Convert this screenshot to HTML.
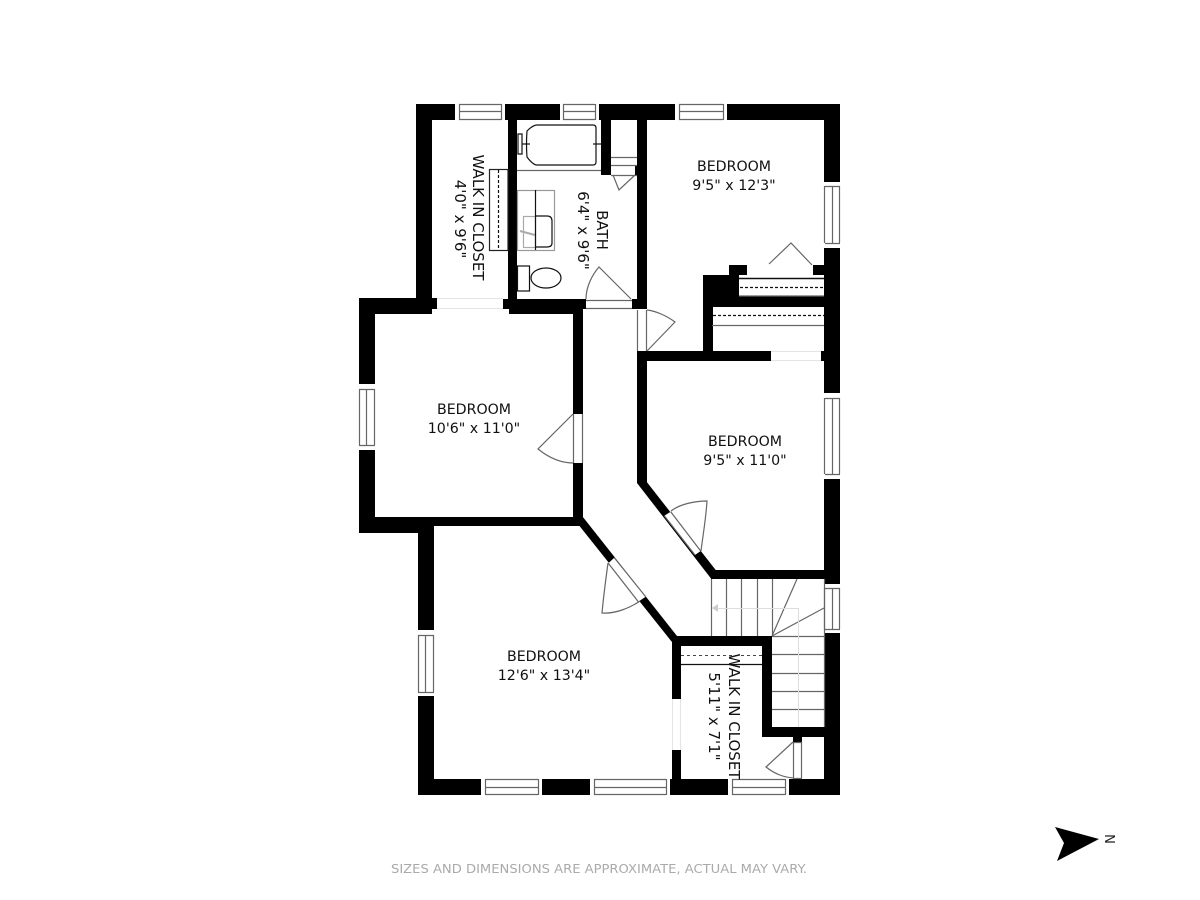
<!DOCTYPE html>
<html><head><meta charset="utf-8"><style>
html,body{margin:0;padding:0;background:#fff}
svg{display:block}
text{font-family:"DejaVu Sans","Liberation Sans",sans-serif;fill:#111;font-size:14.2px;text-anchor:middle}
.r{font-size:15px}
.g{fill:none;stroke:#666;stroke-width:1.2}
.k{fill:none;stroke:#111;stroke-width:1.2}
.d{fill:none;stroke:#111;stroke-width:1.2;stroke-dasharray:3 2}
</style></head><body>
<svg width="1200" height="900" viewBox="0 0 1200 900" xmlns="http://www.w3.org/2000/svg">
<rect width="1200" height="900" fill="#fff"/>
<!-- walls -->
<g fill="#000">
<rect x="416" y="104" width="424" height="16"/>
<rect x="416" y="104" width="16" height="205"/>
<rect x="508" y="104" width="9" height="205"/>
<rect x="601" y="104" width="10" height="71"/>
<rect x="635" y="165" width="3" height="10"/>
<rect x="637" y="104" width="10" height="205"/>
<rect x="824" y="104" width="16" height="691"/>
<!-- left bedroom -->
<rect x="359" y="298" width="73" height="16"/>
<rect x="432" y="298" width="5" height="11"/>
<rect x="503" y="299" width="6" height="10"/>
<rect x="509" y="299" width="74" height="15"/>
<rect x="583" y="299" width="3" height="10"/>
<rect x="632" y="299" width="15" height="10"/>
<rect x="359" y="298" width="16" height="235"/>
<rect x="573" y="299" width="10" height="227"/>
<rect x="359" y="517" width="75" height="16"/>
<rect x="418" y="517" width="165" height="9"/>
<rect x="418" y="517" width="16" height="278"/>
<rect x="418" y="779" width="422" height="16"/>
<!-- diagonal lower -->
<polygon points="573,526 579.500,526 671.700,641.700 677,636 582.700,516.700 573,516"/>
<rect x="672" y="636" width="100" height="10"/>
<rect x="672" y="636" width="9" height="159"/>
<rect x="762" y="636" width="10" height="101"/>
<rect x="762" y="727" width="63" height="10"/>
<rect x="793" y="737" width="9" height="5"/>
<!-- right hall wall -->
<rect x="637" y="351" width="134" height="10"/>
<rect x="821" y="351" width="4" height="10"/>
<rect x="637" y="351" width="10" height="132"/>
<polygon points="637,483 711,578.500 711,579 825,579 825,570 715.700,570 646,481 637,481"/>
<!-- closet block -->
<rect x="703" y="275" width="10" height="80"/>
<rect x="703" y="275" width="36" height="32"/>
<rect x="729" y="265" width="18" height="10"/>
<rect x="813" y="265" width="11" height="10"/>
<rect x="703" y="296" width="122" height="11"/>
</g>
<!-- openings and windows -->
<g fill="#fff">
<rect x="455" y="103" width="50" height="17"/>
<rect x="560" y="103" width="39" height="17"/>
<rect x="675" y="103" width="52" height="17"/>
<rect x="824" y="182" width="17" height="66"/>
<rect x="824" y="393" width="17" height="86"/>
<rect x="824" y="584" width="17" height="49"/>
<rect x="358" y="384" width="17" height="66"/>
<rect x="417" y="630" width="17" height="66"/>
<rect x="481" y="779" width="61" height="17"/>
<rect x="590" y="779" width="80" height="17"/>
<rect x="728" y="779" width="61" height="17"/>
<rect x="672" y="699" width="9" height="51"/>
<rect x="771" y="351" width="50" height="10"/>
<rect x="437" y="298" width="66" height="11"/>
<rect x="586" y="299" width="46" height="10"/>
<rect x="637" y="310" width="10" height="41"/>
<rect x="573" y="414" width="10" height="49"/>
<rect x="793" y="742" width="9" height="37"/>
<polygon points="664.300,515.700 670.700,511.700 700.700,551 695,555"/>
<polygon points="608.300,563.300 614.300,557.700 645.700,596.700 638.300,601.700"/>
<rect x="739" y="275" width="85" height="21"/>
<rect x="747" y="265" width="66" height="10"/>
</g>
<g fill="none" stroke="#e4e4e4">
<path d="M437 298.500H503M437 308.500H503M771 351.500H821M771 360.500H821M672.500 699V750M680.500 699V750"/>
</g>
<!-- window lines -->
<g class="g">
<path d="M459.500 104V120M501.500 104V120M459 104.500H501M459 111.500H501M459 119.500H501"/>
<path d="M563.500 104V120M595.500 104V120M563 104.500H595M563 111.500H595M563 119.500H595"/>
<path d="M679.500 104V120M723.500 104V120M679 104.500H723M679 111.500H723M679 119.500H723"/>
<path d="M825 186.500H840M825 243.500H840M824.500 186V243M832.500 186V243M839.500 186V243"/>
<path d="M825 398.500H840M825 474.500H840M824.500 398V474M832.500 398V474M839.500 398V474"/>
<path d="M825 588.500H840M825 629.500H840M824.500 588V629M832.500 588V629M839.500 588V629"/>
<path d="M359 389.500H375M359 445.500H375M359.500 389V445M366.500 389V445M374.500 389V445"/>
<path d="M418 635.500H434M418 692.500H434M418.500 635V692M425.500 635V692M433.500 635V692"/>
<path d="M485.500 779V795M538.500 779V795M485 779.500H538M485 787.500H538M485 794.500H538"/>
<path d="M594.500 779V795M666.500 779V795M594 779.500H666M594 787.500H666M594 794.500H666"/>
<path d="M732.500 779V795M785.500 779V795M732 779.500H785M732 787.500H785M732 794.500H785"/>
<path d="M586 308.500H632M586 300.500H632"/>
<path d="M637.500 310V351M646.500 310V351"/>
<path d="M573.500 414V463M582.500 414V463"/>
<path d="M793.500 742V778M801.500 742V778M793 742.500H802M793 778.500H802"/>
<path d="M664.300 515.700L695 555M670.700 511.700L700.700 551"/>
<path d="M608.300 563.300L638.300 601.700M614.300 557.700L645.700 596.700"/>
</g>
<!-- door swings -->
<g class="g" stroke="#444">
<path d="M586 299C586 287 592 275 599 267L631 299"/>
<path d="M647 310C656 311 667 316 675 322L647 351"/>
<path d="M573 414L538 449C548 457 560 463 573 463"/>
<path d="M671 511C680 504 695 501 707 501C706 518 703 535 701 551"/>
<path d="M608 563C605 585 603 602 602 613C615 614 630 608 640 601"/>
<path d="M793 742L766 767C775 774 783 777 793 778"/>
<path d="M769 264L791 243L812 265"/>
<path d="M613 175L619 190L635 175"/>
</g>
<!-- bathroom fixtures -->
<g class="g">
<path d="M517 170.500H601"/>
<path d="M611 157.500H637M611 165.500H637"/>
<path d="M611 175.500H637"/>
<rect x="517.500" y="190.500" width="37" height="60" stroke="#999"/>
<rect x="523.500" y="216.500" width="12" height="31" stroke="#aaa"/>
<path d="M520 231L535 235" stroke="#aaa" stroke-width="2"/>
<rect x="489.500" y="169.500" width="18.500" height="81" stroke="#222"/>
<path d="M739 296H824M712 325.500H824"/>
</g>
<g class="k">
<path d="M527 131Q533 125 537 125H593Q596 125 596 128V162Q596 165 593 165H537Q533 165 527 157Q526 144 527 131Z"/>
<path d="M518 134H522V154H518Z"/>
<path d="M522 144H530"/>
<path d="M593 144H601"/>
<path d="M535.500 190V250"/>
<path d="M535 216H547Q552 216 552 221V243Q552 247 547 247H535"/>
<ellipse cx="546" cy="278" rx="15" ry="10"/>
<rect x="517.500" y="266" width="12" height="25"/>
<path d="M739 278.500H824" stroke-width="1.500"/>
<path d="M681 664.500H762"/>
</g>
<g>
<path class="d" d="M498.500 170V250"/>
<path class="d" d="M740 287.500H824"/>
<path class="d" d="M713 315.500H824"/>
<path d="M681 655.500H762" fill="none" stroke="#444" stroke-width="1" stroke-dasharray="3 3"/>
</g>
<!-- stairs -->
<g class="g">
<path d="M711.500 579V636M726.500 579V636M741.500 579V636M757.500 579V636M772.500 579V636"/>
<path d="M772 636L797 579M772 636L824 608"/>
<path d="M772 636.500H824M772 654.500H824M772 673.500H824M772 691.500H824M772 709.500H824"/>
<path d="M824.500 579V727"/>
</g>
<path d="M718 608.500H798.500V727" fill="none" stroke="#ddd" stroke-width="1"/>
<polygon points="712,608 718,604 718,612" fill="#ccc"/>
<!-- labels -->
<text x="734" y="171">BEDROOM</text>
<text x="734" y="190">9'5" x 12'3"</text>
<text x="474" y="414">BEDROOM</text>
<text x="474" y="433">10'6" x 11'0"</text>
<text x="745" y="446">BEDROOM</text>
<text x="745" y="465">9'5" x 11'0"</text>
<text x="544" y="661">BEDROOM</text>
<text x="544" y="680">12'6" x 13'4"</text>
<text class="r" transform="translate(473,217.500) rotate(90)">WALK IN CLOSET</text>
<text class="r" transform="translate(455,219) rotate(90)">4'0" x 9'6"</text>
<text class="r" transform="translate(597,230) rotate(90)">BATH</text>
<text class="r" transform="translate(578,230.500) rotate(90)">6'4" x 9'6"</text>
<text class="r" transform="translate(729,716.500) rotate(90)">WALK IN CLOSET</text>
<text class="r" transform="translate(709,716.500) rotate(90)">5'11" x 7'1"</text>
<text x="599" y="873" style="font-size:12px;fill:#aaa" textLength="416" lengthAdjust="spacingAndGlyphs">SIZES AND DIMENSIONS ARE APPROXIMATE, ACTUAL MAY VARY.</text>
<!-- compass -->
<polygon points="1055,827 1099,839 1057,861 1064,843" fill="#000"/>
<text transform="translate(1105,839) rotate(90)" style="font-size:13px;fill:#222">N</text>
</svg>
</body></html>
